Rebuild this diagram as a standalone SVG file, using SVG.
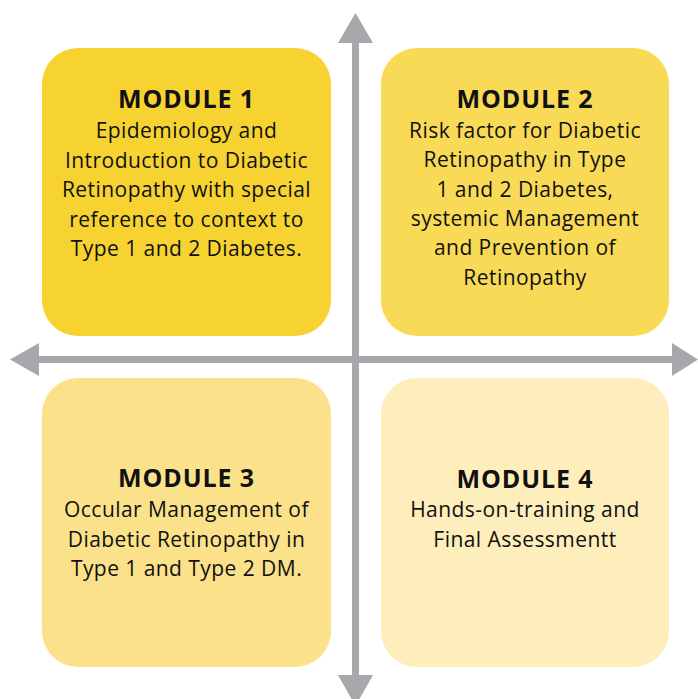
<svg xmlns="http://www.w3.org/2000/svg" width="698" height="699" viewBox="0 0 698 699">
<style>
.box{stroke:none}
.t{font-family:"Open Sans","Noto Sans",sans-serif;font-weight:700;font-size:25px;letter-spacing:0.9px;fill:#111;text-anchor:middle}
.b{font-family:"Open Sans","Noto Sans",sans-serif;font-size:21px;letter-spacing:0.45px;fill:#111;text-anchor:middle}
.ax{fill:#A7A8AB}
</style>
<rect width="698" height="699" fill="#fff"/>
<g id="connectors">
<rect class="ax" x="352" y="40" width="7" height="640"/>
<polygon class="ax" points="355.5,13 338,43 373,43"/>
<polygon class="ax" points="355.5,706 338,675 373,675"/>
<rect class="ax" x="36" y="356" width="640" height="7"/>
<polygon class="ax" points="10,359.5 39,343 39,376"/>
<polygon class="ax" points="698,359.5 672,343 672,376"/>
</g>
<g id="module1">
<rect class="box" x="42" y="48" width="289" height="288" rx="36" fill="#F7D332"/>
<text class="t" x="186.5" y="108">MODULE 1</text>
<text class="b" x="186.5" y="138">Epidemiology and</text>
<text class="b" x="186.5" y="167.5">Introduction to Diabetic</text>
<text class="b" x="186.5" y="197">Retinopathy with special</text>
<text class="b" x="186.5" y="226.5">reference to context to</text>
<text class="b" x="186.5" y="256">Type 1 and 2 Diabetes.</text>
</g>
<g id="module2">
<rect class="box" x="381" y="48" width="288" height="288" rx="36" fill="#F9DA57"/>
<text class="t" x="525" y="108">MODULE 2</text>
<text class="b" x="525" y="138">Risk factor for Diabetic</text>
<text class="b" x="525" y="167.3">Retinopathy in Type</text>
<text class="b" x="525" y="196.6">1 and 2 Diabetes,</text>
<text class="b" x="525" y="225.9">systemic Management</text>
<text class="b" x="525" y="255.2">and Prevention of</text>
<text class="b" x="525" y="284.5">Retinopathy</text>
</g>
<g id="module3">
<rect class="box" x="42" y="378" width="289" height="289" rx="36" fill="#FBE28A"/>
<text class="t" x="186.5" y="487">MODULE 3</text>
<text class="b" x="186.5" y="517">Occular Management of</text>
<text class="b" x="186.5" y="546.5">Diabetic Retinopathy in</text>
<text class="b" x="186.5" y="576">Type 1 and Type 2 DM.</text>
</g>
<g id="module4">
<rect class="box" x="381" y="378" width="288" height="289" rx="36" fill="#FEEEBB"/>
<text class="t" x="525" y="488">MODULE 4</text>
<text class="b" x="525" y="517">Hands-on-training and</text>
<text class="b" x="525" y="547">Final Assessmentt</text>
</g>
</svg>
